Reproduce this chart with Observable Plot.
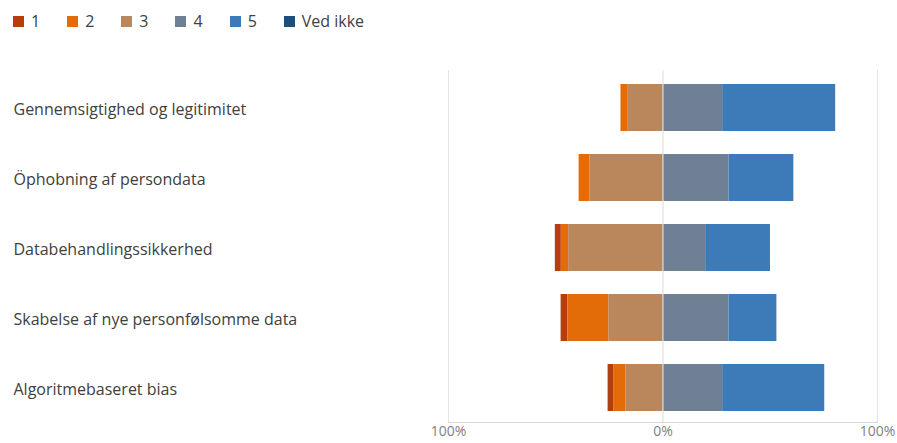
<!DOCTYPE html>
<html>
<head>
<meta charset="utf-8">
<script src="https://cdn.jsdelivr.net/npm/d3@7"></script>
<script src="https://cdn.jsdelivr.net/npm/@observablehq/plot@0.6"></script>
<style>
  html, body { margin: 0; padding: 0; background: #fff; }
  body { width: 897px; height: 443px; overflow: hidden; font-family: "Open Sans", sans-serif; }
  #legend { height: 45px; display: flex; align-items: flex-start; padding-left: 13px; box-sizing: border-box; padding-top: 10px; font-size: 16px; color: #404040; }
  .item { display: flex; align-items: center; margin-right: 27px; }
  .sw { width: 11px; height: 11px; margin-right: 7px; }
</style>
</head>
<body>
<div id="legend"></div>
<div id="chart"></div>
<script>
const categories = [
  "Gennemsigtighed og legitimitet",
  "Öphobning af persondata",
  "Databehandlingssikkerhed",
  "Skabelse af nye personfølsomme data",
  "Algoritmebaseret bias"
];
const levels = ["1", "2", "3", "4", "5", "Ved ikke"];
const colors = ["#B83D0C", "#E36C09", "#BA875C", "#6F7F94", "#3D7AB8", "#1F4E79"];
// percentages per level (1..5, Ved ikke) for each category
const level1 = [0, 0, 2.8, 3.1, 2.8];
const level2 = [3.1, 5.1, 3.4, 19.1, 5.6];
const level3 = [16.5, 34.0, 44.0, 25.3, 17.2];
const level4 = [27.8, 30.8, 19.9, 30.8, 27.8];
const level5 = [52.7, 30.2, 30.2, 22.3, 47.6];
const vedIkke = [0, 0, 0, 0, 0];
const xTicks = [-100, 0, 100];

const series = [level1, level2, level3, level4, level5, vedIkke];
const negative = new Set(["1", "2", "3"]);
const rows = [];
categories.forEach((c, i) => {
  levels.forEach((l, j) => {
    const v = series[j][i];
    if (v > 0) rows.push({cat: c, level: l, value: negative.has(l) ? -v : v});
  });
});

// legend
const leg = document.getElementById("legend");
levels.forEach((l, j) => {
  const it = document.createElement("div");
  it.className = "item";
  it.innerHTML = `<span class="sw" style="background:${colors[j]}"></span><span>${l}</span>`;
  leg.appendChild(it);
});

const chart = Plot.plot({
  width: 897,
  height: 398,
  marginLeft: 448,
  marginRight: 20,
  marginTop: 27,
  marginBottom: 21,
  style: {fontFamily: "Open Sans, sans-serif", fontSize: "16px", color: "#404040"},
  x: {domain: [-100, 100]},
  y: {domain: categories, paddingInner: 0.33, paddingOuter: 0.165},
  color: {domain: levels, range: colors},
  marks: [
    Plot.ruleX(xTicks, {stroke: "#e3e3e3", strokeWidth: 1, insetTop: -2}),
    Plot.barX(rows, Plot.stackX({
      x: "value", y: "cat", fill: "level",
      order: ["3", "2", "1", "4", "5", "Ved ikke"]
    })),
    Plot.ruleX([0], {stroke: "#eee6dc", strokeWidth: 1}),
    Plot.frame({anchor: "bottom", stroke: "#d9d9d9"}),
    Plot.axisX({ticks: xTicks, tickSize: 0, tickPadding: 4, tickFormat: d => Math.abs(d) + "%", fontSize: 14, color: "#7f7f7f", label: null}),
    Plot.axisY({tickSize: 0, tickPadding: 0, textAnchor: "start", dx: -435, dy: 2, label: null, fill: "#404040"})
  ]
});
document.getElementById("chart").appendChild(chart);
</script>
</body>
</html>
